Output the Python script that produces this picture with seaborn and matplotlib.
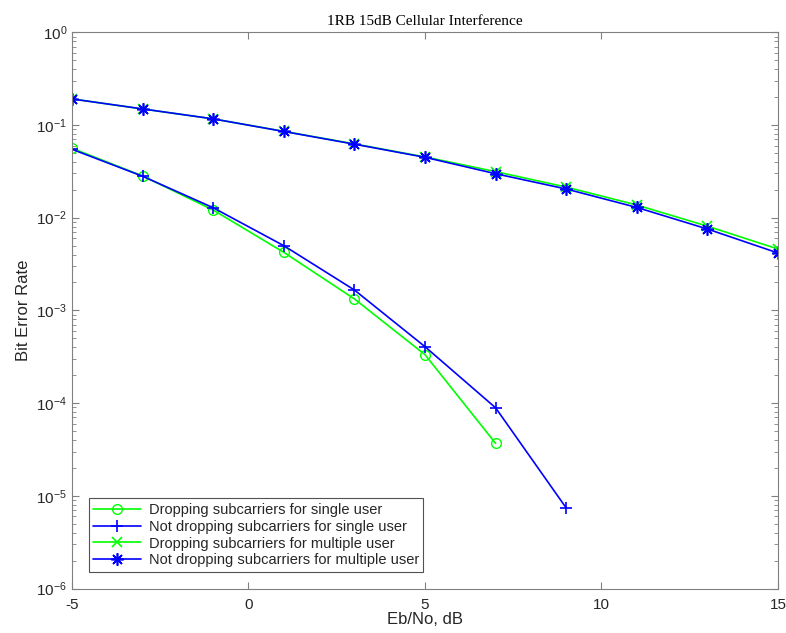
import matplotlib
matplotlib.use("Agg")
import matplotlib.pyplot as plt
import matplotlib.ticker as mticker
import seaborn as sns
import pandas as pd
import numpy as np

sns.set_style("ticks")
plt.rcParams['font.family'] = ['Liberation Sans', 'DejaVu Sans']
plt.rcParams['axes.unicode_minus'] = False

ebno_single_drop = [-5, -3, -1, 1, 3, 5, 7]
ber_single_drop = [0.0561, 0.0282, 0.0121, 0.00423, 0.00133, 0.000333, 3.68e-5]

ebno_single_nodrop = [-5, -3, -1, 1, 3, 5, 7, 9]
ber_single_nodrop = [0.0547, 0.0280, 0.0128, 0.00499, 0.00166, 0.000406, 8.9e-5, 7.4e-6]

ebno_multi = [-5, -3, -1, 1, 3, 5, 7, 9, 11, 13, 15]
ber_multi_drop = [0.191, 0.149, 0.1164, 0.0855, 0.0625, 0.0452, 0.0314, 0.0214, 0.0137, 0.0081, 0.00459]
ber_multi_nodrop = [0.191, 0.149, 0.1164, 0.0851, 0.0621, 0.0448, 0.0298, 0.0204, 0.0129, 0.00755, 0.00416]

labels = ["Dropping subcarriers for single user",
          "Not dropping subcarriers for single user",
          "Dropping subcarriers for multiple user",
          "Not dropping subcarriers for multiple user"]

series = [
    (ebno_single_drop, ber_single_drop, "#00ff00", "o", dict(markerfacecolor="none", markersize=7, markeredgewidth=1.0)),
    (ebno_single_nodrop, ber_single_nodrop, "#0000ff", "+", dict(markersize=9, markeredgewidth=1.2)),
    (ebno_multi, ber_multi_drop, "#00ff00", "x", dict(markersize=7, markeredgewidth=1.2)),
    (ebno_multi, ber_multi_nodrop, "#0000ff", (8, 2, 0), dict(markersize=9, markeredgewidth=1.2)),
]

fig = plt.figure(figsize=(7.86, 6.33), dpi=100)
ax = fig.add_axes([0.0916, 0.0703, 0.8982, 0.8787])

for (x, y, c, m, kw), lab in zip(series, labels):
    df = pd.DataFrame({"x": x, "y": y})
    sns.lineplot(data=df, x="x", y="y", ax=ax, color=c, marker=m,
                 markeredgecolor=c, linewidth=1.2, label=lab, **kw)

ax.set_yscale("log")
ax.set_xlim(-5, 15)
ax.set_ylim(1e-6, 1)
ax.set_xticks([-5, 0, 5, 10, 15])
ax.yaxis.set_major_locator(mticker.LogLocator(base=10, numticks=10))
ax.yaxis.set_minor_locator(mticker.LogLocator(base=10, subs=np.arange(2, 10), numticks=20))
ax.yaxis.set_minor_formatter(mticker.NullFormatter())

axcol = "#262626"
for s in ax.spines.values():
    s.set_color("#808080")
    s.set_linewidth(0.8)
ax.tick_params(which="both", direction="in", top=True, right=True, colors="#808080",
               labelcolor=axcol, labelsize=11)
ax.tick_params(which="major", length=5)
ax.tick_params(which="minor", length=3)
ax.tick_params(axis="x", which="major", pad=7)

ax.set_xlabel("Eb/No, dB", fontsize=12, color=axcol, labelpad=0)
ax.set_ylabel("Bit Error Rate", fontsize=12, color=axcol, labelpad=4)
ax.set_title("1RB 15dB Cellular Interference", fontsize=11, color="black",
             family=["Liberation Serif", "DejaVu Serif"], pad=5)

leg = ax.legend(loc="lower left", bbox_to_anchor=(0.024, 0.03), fontsize=10.5,
                frameon=True, fancybox=False, edgecolor="#262626", handlelength=3.3,
                borderpad=0.3, labelspacing=0.2, handletextpad=0.5, borderaxespad=0)
leg.get_frame().set_linewidth(0.8)

fig.savefig("out.png", dpi=100, facecolor="white")
